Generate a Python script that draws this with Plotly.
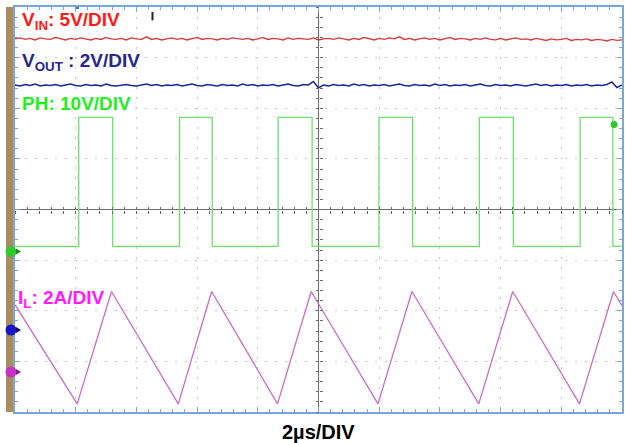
import numpy as np
import plotly.graph_objects as go

# ---------------- data (screen divisions, time in µs relative to centre) ----------
t_min, t_max = -10.0, 10.0          # 2 µs/DIV, 10 divisions
y_min, y_max = -4.0, 4.0            # 8 vertical divisions

# V_IN trace (noisy flat line), 121 samples
vin_t = np.linspace(-10, 10, 121)
vin_v = [3.37, 3.39, 3.36, 3.38, 3.35, 3.39, 3.37, 3.36, 3.40, 3.37,
         3.35, 3.38, 3.36, 3.39, 3.37, 3.35, 3.38, 3.36, 3.40, 3.37,
         3.36, 3.38, 3.35, 3.39, 3.37, 3.36, 3.41, 3.36, 3.38, 3.35,
         3.37, 3.39, 3.36, 3.38, 3.35, 3.37, 3.40, 3.36, 3.38, 3.37,
         3.35, 3.38, 3.36, 3.39, 3.37, 3.36, 3.38, 3.35, 3.37, 3.40,
         3.36, 3.38, 3.37, 3.35, 3.39, 3.36, 3.38, 3.37, 3.36, 3.39,
         3.35, 3.37, 3.38, 3.36, 3.39, 3.37, 3.35, 3.38, 3.36, 3.40,
         3.37, 3.35, 3.38, 3.36, 3.39, 3.37, 3.41, 3.36, 3.38, 3.35,
         3.37, 3.39, 3.36, 3.38, 3.35, 3.37, 3.40, 3.36, 3.38, 3.37,
         3.35, 3.38, 3.36, 3.39, 3.36, 3.35, 3.38, 3.35, 3.37, 3.39,
         3.36, 3.37, 3.35, 3.38, 3.36, 3.34, 3.37, 3.35, 3.36, 3.38,
         3.34, 3.36, 3.35, 3.37, 3.34, 3.36, 3.35, 3.33, 3.36, 3.34,
         3.35]

# V_OUT trace (noisy flat line with switching spikes), 121 samples
vout_t = np.linspace(-10, 10, 121)
vout_v = [2.46, 2.44, 2.47, 2.45, 2.48, 2.44, 2.46, 2.45, 2.47, 2.44,
          2.46, 2.48, 2.45, 2.44, 2.47, 2.45, 2.46, 2.44, 2.48, 2.45,
          2.44, 2.46, 2.47, 2.45, 2.44, 2.46, 2.48, 2.45, 2.47, 2.44,
          2.46, 2.45, 2.47, 2.44, 2.46, 2.48, 2.45, 2.44, 2.47, 2.46,
          2.44, 2.47, 2.45, 2.46, 2.44, 2.48, 2.45, 2.47, 2.44, 2.46,
          2.45, 2.47, 2.44, 2.46, 2.48, 2.45, 2.44, 2.47, 2.46, 2.53,
          2.40, 2.46, 2.44, 2.47, 2.45, 2.46, 2.44, 2.48, 2.45, 2.47,
          2.44, 2.46, 2.45, 2.47, 2.44, 2.46, 2.48, 2.45, 2.44, 2.47,
          2.45, 2.46, 2.44, 2.48, 2.45, 2.47, 2.44, 2.46, 2.45, 2.47,
          2.44, 2.46, 2.48, 2.45, 2.44, 2.47, 2.45, 2.46, 2.44, 2.47,
          2.45, 2.44, 2.46, 2.48, 2.45, 2.47, 2.44, 2.46, 2.45, 2.47,
          2.44, 2.46, 2.45, 2.47, 2.44, 2.46, 2.45, 2.47, 2.52, 2.41,
          2.46]

# PH switch-node square wave
ph_rise = [-7.90, -4.58, -1.33, 1.99, 5.30, 8.62]
ph_fall = [-6.78, -3.50, -0.21, 3.10, 6.42, 9.70]
ph_high = 1.82
ph_low = -0.73

# I_L inductor current triangle vertices
il_t = [-10.0, -7.95, -6.82, -4.62, -3.52, -1.35, -0.24, 1.96, 3.08, 5.28, 6.40, 8.60, 9.72, 10.0]
il_v = [-1.88, -3.84, -1.62, -3.84, -1.62, -3.84, -1.62, -3.84, -1.62, -3.84, -1.62, -3.84, -1.62, -1.90]

# channel ground markers (left edge), trigger level & trigger position markers
gnd_levels = [-0.83, -2.38, -3.21]
gnd_colors = ["#2fc82f", "#1818c8", "#c832c8"]
arrow_colors = ["#1e8a1e", "#0c0c70", "#8a1e8a"]
trig_t, trig_v = 9.74, 1.68
trig_pos_t = -7.96
mark_t, mark_v = -5.47, 3.82

# ---------------- build PH polyline from edges ----------------
ph_x, ph_y = [t_min], [ph_low]
for r, f in zip(ph_rise, ph_fall):
    ph_x += [r, r, f, f]
    ph_y += [ph_low, ph_high, ph_high, ph_low]
ph_x.append(t_max)
ph_y.append(ph_low)

fig = go.Figure()
fig.add_trace(go.Scatter(x=vin_t, y=vin_v, mode="lines",
                         line=dict(color="#d63a3a", width=1.4), hoverinfo="skip"))
fig.add_trace(go.Scatter(x=vout_t, y=vout_v, mode="lines",
                         line=dict(color="#23239a", width=1.5), hoverinfo="skip"))
fig.add_trace(go.Scatter(x=ph_x, y=ph_y, mode="lines",
                         line=dict(color="#6ee06e", width=1.3), hoverinfo="skip"))
fig.add_trace(go.Scatter(x=il_t, y=il_v, mode="lines",
                         line=dict(color="#c86ec8", width=1.3), hoverinfo="skip"))
fig.add_trace(go.Scatter(x=[trig_t], y=[trig_v], mode="markers",
                         marker=dict(color="#2fc82f", size=7), cliponaxis=False,
                         hoverinfo="skip"))
fig.add_trace(go.Scatter(x=[mark_t], y=[mark_v], mode="markers",
                         marker=dict(symbol="line-ns", size=6, line=dict(color="#222", width=2)),
                         hoverinfo="skip"))
fig.add_trace(go.Scatter(x=[trig_pos_t], y=[y_max], mode="markers",
                         marker=dict(symbol="square", size=4, color="#3a6fd0"),
                         cliponaxis=False, hoverinfo="skip"))

edge_col = "#7aa6da"
axis_common = dict(showticklabels=False, ticks="inside", mirror="ticks",
                   showline=True, linecolor=edge_col, linewidth=1.5,
                   tickcolor=edge_col, ticklen=5,
                   showgrid=True, gridcolor="#c8c8c8", griddash="2px,8px", gridwidth=1,
                   zeroline=True, zerolinecolor="#6b6b6b", zerolinewidth=1,
                   fixedrange=True)

fig.update_layout(
    width=625, height=443,
    margin=dict(l=15, r=1, t=7, b=31),
    paper_bgcolor="white", plot_bgcolor="white",
    showlegend=False,
    xaxis=dict(range=[t_min, t_max], dtick=2, tick0=0,
               minor=dict(dtick=0.4, ticklen=3, tickcolor=edge_col, showgrid=False, ticks="inside"),
               **axis_common),
    yaxis=dict(range=[y_min, y_max], dtick=1, tick0=0,
               minor=dict(dtick=0.2, ticklen=3, tickcolor=edge_col, showgrid=False, ticks="inside"),
               **axis_common),
)

# centre crosshair ticks (both sides)
centre_tick = dict(showticklabels=False, showline=False, showgrid=False, zeroline=False,
                   tickcolor="#6b6b6b", ticklen=3, fixedrange=True)
fig.update_layout(
    xaxis2=dict(overlaying="x", anchor="free", position=0.5, range=[t_min, t_max],
                dtick=0.4, tick0=0, ticks="inside", **centre_tick),
    xaxis3=dict(overlaying="x", anchor="free", position=0.5, range=[t_min, t_max],
                dtick=0.4, tick0=0, ticks="outside", **centre_tick),
    yaxis2=dict(overlaying="y", anchor="free", position=0.5, range=[y_min, y_max],
                dtick=0.2, tick0=0, ticks="inside", **centre_tick),
    yaxis3=dict(overlaying="y", anchor="free", position=0.5, range=[y_min, y_max],
                dtick=0.2, tick0=0, ticks="outside", **centre_tick),
)
for xa, ya in [("x2", "y2"), ("x3", "y3")]:
    fig.add_trace(go.Scatter(x=[t_min], y=[y_min], xaxis=xa, yaxis=ya, mode="markers",
                             marker=dict(opacity=0), hoverinfo="skip"))

# brown bar at left
fig.add_shape(type="rect", xref="paper", yref="paper", x0=-9 / 609, x1=-0.5 / 609,
              y0=0, y1=1, fillcolor="#a98c5a", line=dict(width=0), layer="below")

# ground markers on the left border (circle + small arrow), placed at channel levels
for lvl, col, acol in zip(gnd_levels, gnd_colors, arrow_colors):
    fig.add_shape(type="circle", xref="paper", yref="y",
                  xsizemode="pixel", ysizemode="pixel",
                  xanchor=-4 / 609, yanchor=lvl,
                  x0=-5.5, x1=5.5, y0=-5.5, y1=5.5,
                  fillcolor=col, line=dict(width=0), layer="above")
    fig.add_shape(type="path", xref="paper", yref="y",
                  xsizemode="pixel", ysizemode="pixel",
                  xanchor=-4 / 609, yanchor=lvl,
                  path="M 5,-3 L 10,0 L 5,3 Z",
                  fillcolor=acol, line=dict(width=0), layer="above")

font_fam = "Liberation Sans, Arial, sans-serif"
labels = [
    ("V<sub>IN</sub>: 5V/DIV", "#ff1a1a", 20, 21),
    ("V<sub>OUT</sub> : 2V/DIV", "#28288c", 20, 62),
    ("PH: 10V/DIV", "#22ee22", 20, 104),
    ("I<sub>L</sub>: 2A/DIV", "#ff1aff", 16, 299),
]
for txt, col, px, py in labels:
    fig.add_annotation(text=txt, xref="paper", yref="paper",
                       x=(px - 15) / 609, y=(412 - py) / 405,
                       xanchor="left", yanchor="middle", showarrow=False,
                       font=dict(family=font_fam, size=19, color=col, weight="bold"))

fig.add_annotation(text="2µs/DIV", xref="paper", yref="paper",
                   x=0.5, y=(412 - 432) / 405, xanchor="center", yanchor="middle",
                   showarrow=False,
                   font=dict(family=font_fam, size=20, color="black", weight="bold"))

fig.write_html("out.html", config={"displayModeBar": False},
               post_script="document.body.style.margin='0';")
